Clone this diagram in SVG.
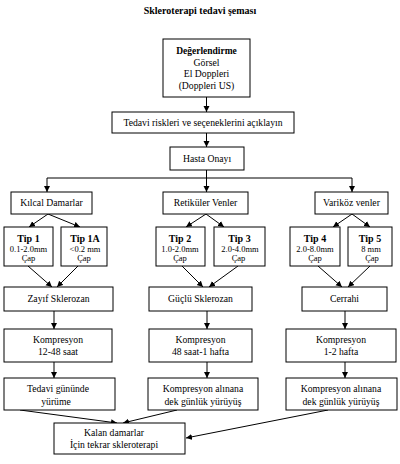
<svg xmlns="http://www.w3.org/2000/svg" width="400" height="464" viewBox="0 0 400 464" font-family="Liberation Serif, Times New Roman, serif">
<defs>
<marker id="ah" markerUnits="userSpaceOnUse" markerWidth="7" markerHeight="7" refX="6" refY="3" orient="auto">
<path d="M0,0 L6,3 L0,6 z" fill="#000"/>
</marker>
<style>
rect{fill:#fff;stroke:#000;stroke-width:1}
text{font-size:9.7px;fill:#000;text-anchor:middle}
.b{font-weight:bold;font-size:9.5px}
.h{font-weight:bold;font-size:10px}
.t{font-size:10px;font-weight:bold}
.s{font-size:8.5px}
#connectors line{stroke:#000;stroke-width:1;fill:none}
.a{marker-end:url(#ah)}
</style>
</defs>
<rect x="0" y="0" width="400" height="464" style="fill:#fff;stroke:none"/>
<text x="200" y="13.5" class="h">Skleroterapi tedavi şeması</text>

<g id="connectors">
<line class="a" x1="206.5" y1="97" x2="206.5" y2="112"/>
<line class="a" x1="206.5" y1="133" x2="206.5" y2="147"/>
<line x1="206.5" y1="170" x2="206.5" y2="178"/>
<line x1="47" y1="178" x2="352" y2="178"/>
<line class="a" x1="47" y1="178" x2="47" y2="192"/>
<line class="a" x1="206.5" y1="178" x2="206.5" y2="192"/>
<line class="a" x1="352" y1="178" x2="352" y2="192"/>
<line class="a" x1="48" y1="214" x2="29" y2="227"/>
<line class="a" x1="48" y1="214" x2="80" y2="227"/>
<line class="a" x1="206" y1="214" x2="186" y2="227"/>
<line class="a" x1="206" y1="214" x2="224" y2="227"/>
<line class="a" x1="352" y1="214" x2="333" y2="227"/>
<line class="a" x1="352" y1="214" x2="370" y2="227"/>
<line class="a" x1="28" y1="266" x2="52" y2="287"/>
<line class="a" x1="78" y1="266" x2="57" y2="287"/>
<line class="a" x1="182" y1="266" x2="203" y2="287"/>
<line class="a" x1="238" y1="266" x2="209" y2="287"/>
<line class="a" x1="318" y1="266" x2="342" y2="287"/>
<line class="a" x1="370" y1="266" x2="348" y2="287"/>
<line class="a" x1="54" y1="311" x2="54" y2="329"/>
<line class="a" x1="207" y1="311" x2="207" y2="329"/>
<line class="a" x1="345" y1="311" x2="345" y2="329"/>
<line class="a" x1="54" y1="362" x2="54" y2="378"/>
<line class="a" x1="207" y1="362" x2="207" y2="378"/>
<line class="a" x1="345" y1="362" x2="345" y2="378"/>
<line class="a" x1="20" y1="410" x2="117" y2="423"/>
<line class="a" x1="177" y1="410" x2="123" y2="423"/>
<line class="a" x1="328" y1="410" x2="186" y2="438"/>
</g>

<g id="degerlendirme">
<rect x="163" y="39" width="87" height="58"/>
<text x="206.5" y="54" class="b">Değerlendirme</text>
<text x="206.5" y="65.5">Görsel</text>
<text x="206.5" y="77">El Doppleri</text>
<text x="206.5" y="88.5">(Doppleri US)</text>
</g>
<g id="riskler">
<rect x="112" y="112" width="182" height="21"/>
<text x="203" y="126">Tedavi riskleri ve seçeneklerini açıklayın</text>
</g>
<g id="onay">
<rect x="170" y="147" width="74" height="23"/>
<text x="207" y="161.5">Hasta Onayı</text>
</g>

<g id="kilcal">
<rect x="11" y="192" width="81" height="22"/>
<text x="51.5" y="206">Kılcal Damarlar</text>
</g>
<g id="retikuler">
<rect x="163" y="192" width="85" height="22"/>
<text x="205.5" y="206">Retiküler Venler</text>
</g>
<g id="varikoz">
<rect x="315" y="192" width="73" height="22"/>
<text x="351.5" y="206">Variköz venler</text>
</g>

<g id="tip1">
<rect x="4" y="227" width="49" height="39"/>
<text x="28.5" y="241.5" class="t">Tip 1</text>
<text x="28.5" y="251.5" class="s">0.1-2.0mm</text>
<text x="28.5" y="261" class="s">Çap</text>
</g>
<g id="tip1a">
<rect x="61" y="227" width="46" height="39"/>
<text x="85" y="241.5" class="t">Tip 1A</text>
<text x="85" y="251.5" class="s">&lt;0.2 mm</text>
<text x="84" y="261" class="s">Çap</text>
</g>
<g id="tip2">
<rect x="156" y="227" width="49" height="39"/>
<text x="180" y="241.5" class="t">Tip 2</text>
<text x="180" y="251.5" class="s">1.0-2.0mm</text>
<text x="180" y="261" class="s">Çap</text>
</g>
<g id="tip3">
<rect x="214" y="227" width="51" height="39"/>
<text x="239.5" y="241.5" class="t">Tip 3</text>
<text x="240" y="251.5" class="s">2.0-4.0mm</text>
<text x="238.5" y="261" class="s">Çap</text>
</g>
<g id="tip4">
<rect x="290" y="227" width="50" height="39"/>
<text x="315" y="241.5" class="t">Tip 4</text>
<text x="315" y="251.5" class="s">2.0-8.0mm</text>
<text x="315" y="261" class="s">Çap</text>
</g>
<g id="tip5">
<rect x="348" y="227" width="44" height="39"/>
<text x="370" y="241.5" class="t">Tip 5</text>
<text x="371" y="251.5" class="s">8 mm</text>
<text x="372" y="261" class="s">Çap</text>
</g>

<g id="zayif">
<rect x="4" y="287" width="109" height="24"/>
<text x="58.5" y="302">Zayıf Sklerozan</text>
</g>
<g id="guclu">
<rect x="149" y="287" width="103" height="24"/>
<text x="200.5" y="302">Güçlü Sklerozan</text>
</g>
<g id="cerrahi">
<rect x="302" y="287" width="85" height="24"/>
<text x="344.5" y="302">Cerrahi</text>
</g>

<g id="kompresyon1">
<rect x="4" y="329" width="108" height="33"/>
<text x="58" y="343">Kompresyon</text>
<text x="58" y="355">12-48 saat</text>
</g>
<g id="kompresyon2">
<rect x="149" y="329" width="103" height="33"/>
<text x="200.5" y="343">Kompresyon</text>
<text x="200.5" y="355">48 saat-1 hafta</text>
</g>
<g id="kompresyon3">
<rect x="286" y="329" width="110" height="33"/>
<text x="341" y="343">Kompresyon</text>
<text x="341" y="355">1-2 hafta</text>
</g>

<g id="yurume1">
<rect x="4" y="378" width="111" height="32"/>
<text x="58" y="392">Tedavi gününde</text>
<text x="56" y="404.5">yürüme</text>
</g>
<g id="yurume2">
<rect x="148" y="378" width="110" height="32"/>
<text x="203" y="392">Kompresyon alınana</text>
<text x="203" y="404.5">dek günlük yürüyüş</text>
</g>
<g id="yurume3">
<rect x="286" y="378" width="111" height="32"/>
<text x="341" y="392">Kompresyon alınana</text>
<text x="341" y="404.5">dek günlük yürüyüş</text>
</g>

<g id="kalan">
<rect x="54" y="423" width="131" height="31"/>
<text x="114" y="435.5">Kalan damarlar</text>
<text x="114" y="448">İçin tekrar skleroterapi</text>
</g>
</svg>
